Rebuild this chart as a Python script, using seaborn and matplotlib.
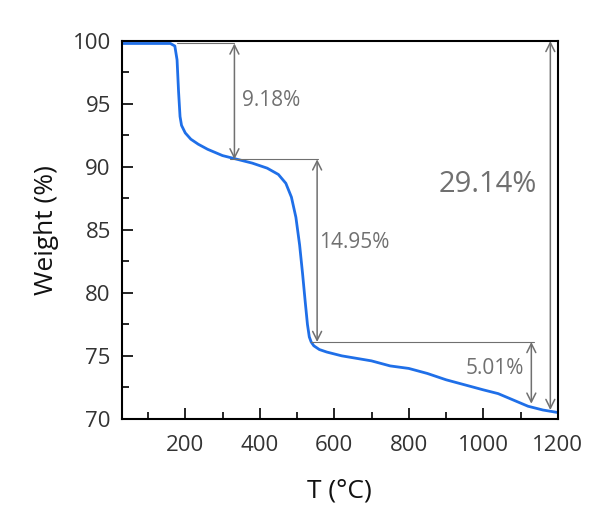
import numpy as np
import pandas as pd
import matplotlib.pyplot as plt
import seaborn as sns

# === Data ===
temp = [30, 100, 160, 172, 178, 182, 186, 190, 200, 215, 235, 260, 300, 340, 380, 420, 450,
        470, 485, 497, 507, 515, 522, 528, 533, 538, 545, 560, 580, 620, 660, 700, 750,
        800, 850, 900, 950, 1000, 1040, 1080, 1120, 1160, 1200]
weight = [99.8, 99.8, 99.8, 99.6, 98.5, 96.0, 94.0, 93.3, 92.7, 92.2, 91.8, 91.4, 90.9, 90.6, 90.3,
          89.9, 89.4, 88.7, 87.6, 86.0, 83.8, 81.5, 79.3, 77.5, 76.5, 76.1, 75.8, 75.5, 75.3, 75.0,
          74.8, 74.6, 74.2, 74.0, 73.6, 73.1, 72.7, 72.3, 72.0, 71.5, 71.0, 70.7, 70.5]

# annotation levels and labels
levels = [99.8, 90.6, 76.1, 70.7]
steps = ["9.18%", "14.95%", "5.01%", "29.14%"]

df = pd.DataFrame({"T": temp, "W": weight})

sns.set_style("white")
plt.rcParams['font.family'] = ['Open Sans', 'DejaVu Sans']

fig = plt.figure(figsize=(5.89, 5.12), dpi=100)
ax = fig.add_axes([0.207, 0.182, 0.74, 0.738])

sns.lineplot(data=df, x="T", y="W", ax=ax, color="#1f6fe8", lw=2)

gray = "#707070"
# horizontal guide lines
ax.plot([178, 332], [levels[0], levels[0]], color=gray, lw=0.8)
ax.plot([320, 555], [levels[1], levels[1]], color=gray, lw=0.8)
ax.plot([538, 1135], [levels[2], levels[2]], color=gray, lw=0.8)

arrow = dict(arrowstyle="<->", color=gray, lw=1.1, mutation_scale=16, shrinkA=0, shrinkB=0)
ax.annotate("", xy=(332, levels[1]), xytext=(332, levels[0]), arrowprops=arrow)
ax.annotate("", xy=(554, levels[2]), xytext=(554, levels[1]), arrowprops=arrow)
ax.annotate("", xy=(1129, 71.2), xytext=(1129, levels[2]), arrowprops=arrow)
ax.annotate("", xy=(1180, levels[3]), xytext=(1180, 100), arrowprops=arrow)

ax.text(352, 95.3, steps[0], color=gray, fontsize=15, va="center")
ax.text(560, 84.0, steps[1], color=gray, fontsize=15, va="center")
ax.text(1110, 74.0, steps[2], color=gray, fontsize=15, va="center", ha="right")
ax.text(1145, 88.6, steps[3], color=gray, fontsize=21, va="center", ha="right")

ax.set_xlim(30, 1200)
ax.set_ylim(70, 100)
ax.set_xticks([200, 400, 600, 800, 1000, 1200])
ax.set_xticks(np.arange(100, 1200, 200), minor=True)
ax.set_yticks(np.arange(70, 101, 5))
ax.set_yticks(np.arange(72.5, 100, 5), minor=True)
ax.tick_params(which="both", direction="in", bottom=True, left=True, color="black", width=1.2,
               labelsize=16, labelcolor="#333333", pad=8)
ax.tick_params(which="major", length=8)
ax.tick_params(which="minor", length=5)
ax.tick_params(axis="x", pad=12)

for s in ax.spines.values():
    s.set_color("black")
    s.set_linewidth(1.5)

ax.set_xlabel("T (°C)", fontsize=19, labelpad=16, color="#111111")
ax.set_ylabel("Weight (%)", fontsize=19, labelpad=10, color="#111111")

fig.savefig("out.png", dpi=100)
